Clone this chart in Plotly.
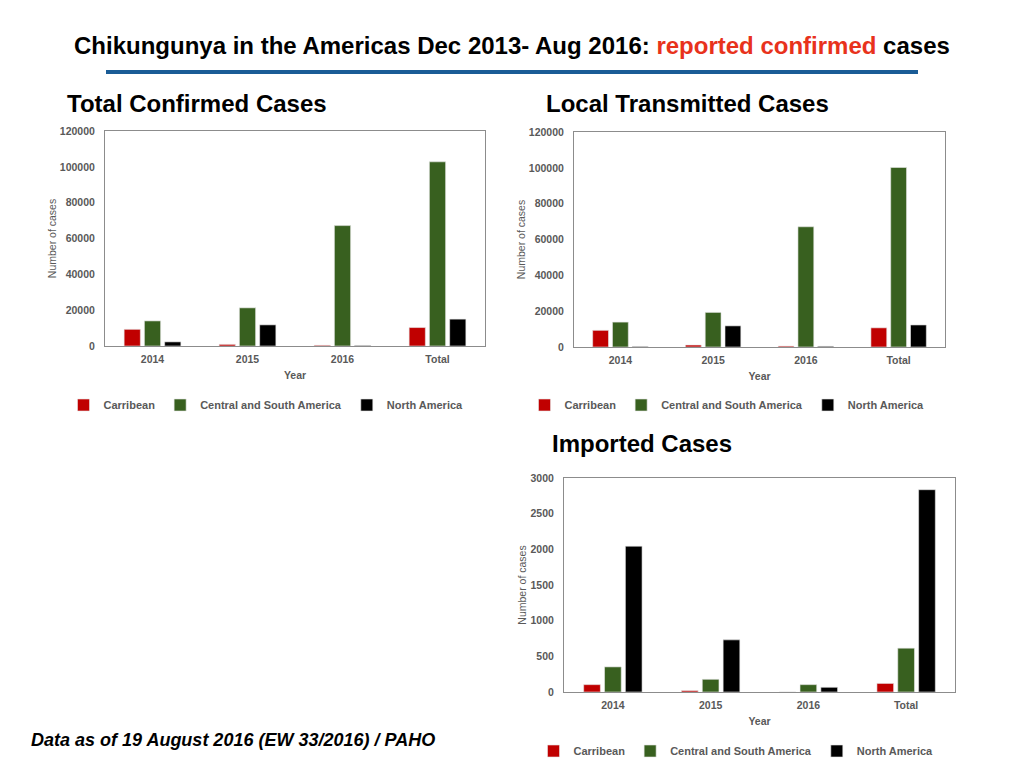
import plotly.graph_objects as go

categories = ["2014", "2015", "2016", "Total"]
series_names = ["Carribean", "Central and South America", "North America"]
colors = ["#c00000", "#38601f", "#000000"]

total_carribean = [9300, 900, 400, 10300]
total_csa = [14000, 21300, 67200, 102800]
total_na = [2300, 11800, 300, 15000]

local_carribean = [9300, 1100, 500, 10700]
local_csa = [13900, 19300, 67100, 100200]
local_na = [300, 11800, 400, 12300]

imported_carribean = [103, 19, 0, 120]
imported_csa = [352, 178, 103, 614]
imported_na = [2044, 731, 66, 2836]

panels = [
    dict(vals=[total_carribean, total_csa, total_na], xa="x", ya="y", leg="legend",
         xd=[105/1024, 485/1024], yd=[1-346/768, 1-131/768], rng=[0, 120000], dt=20000, legy=1-405/768, legx=266/1024),
    dict(vals=[local_carribean, local_csa, local_na], xa="x2", ya="y2", leg="legend2",
         xd=[574/1024, 945/1024], yd=[1-347/768, 1-132/768], rng=[0, 120000], dt=20000, legy=1-405/768, legx=727/1024),
    dict(vals=[imported_carribean, imported_csa, imported_na], xa="x3", ya="y3", leg="legend3",
         xd=[564/1024, 955/1024], yd=[1-692/768, 1-478/768], rng=[0, 3000], dt=500, legy=1-751/768, legx=736/1024),
]

fig = go.Figure()
gray = "#595959"
font = "Liberation Sans, Arial, sans-serif"

layout = dict(
    width=1024, height=768,
    margin=dict(l=0, r=0, t=0, b=0, autoexpand=False),
    paper_bgcolor="white", plot_bgcolor="white",
    barmode="group", bargap=0.36, bargroupgap=0.2,
    font=dict(family=font, color=gray),
    showlegend=True,
)

for i, p in enumerate(panels):
    for name, vals, col in zip(series_names, p["vals"], colors):
        fig.add_trace(go.Bar(
            x=categories, y=vals, name=name, marker=dict(color=col, line=dict(width=0.6, color="#e6e6e6")),
            xaxis=p["xa"], yaxis=p["ya"], legend=p["leg"],
        ))
    sfx = "" if i == 0 else str(i + 1)
    layout["xaxis" + sfx] = dict(
        domain=p["xd"], anchor=p["ya"], showline=True, mirror=True, linecolor="#8c8c8c", linewidth=1,
        showgrid=False, ticks="", ticklabelstandoff=3,
        tickfont=dict(size=10.5, color=gray, family=font, weight="bold"),
        title=dict(text="<b>Year</b>", font=dict(size=10.5, color=gray), standoff=8),
        fixedrange=True,
    )
    layout["yaxis" + sfx] = dict(
        domain=p["yd"], anchor=p["xa"], range=p["rng"], dtick=p["dt"], tickformat="d", showline=True, mirror=True,
        linecolor="#8c8c8c", linewidth=1, showgrid=False, zeroline=False, ticks="", ticklabelstandoff=7,
        tickfont=dict(size=10.5, color=gray, family=font, weight="bold"),
        title=dict(text="Number of cases", font=dict(size=10.5, color=gray), standoff=1),
    )
    layout[p["leg"]] = dict(
        orientation="h", x=p["legx"], y=p["legy"], xanchor="center", yanchor="middle",
        font=dict(size=11, color=gray, family=font, weight="bold"),
        itemwidth=30, bgcolor="rgba(0,0,0,0)", tracegroupgap=0, itemclick=False,
    )

fig.update_layout(**layout)

annotations = [
    dict(x=512/1024, y=1-45/768, xanchor="center", yanchor="middle",
         text="<b>Chikungunya in the Americas Dec 2013- Aug 2016: <span style='color:#e8321c'>reported confirmed</span> cases</b>",
         font=dict(size=24, color="black", family=font)),
    dict(x=65/1024, y=1-103/768, xanchor="left", yanchor="middle", text="<b>Total Confirmed Cases</b>",
         font=dict(size=24, color="black", family=font)),
    dict(x=544/1024, y=1-103/768, xanchor="left", yanchor="middle", text="<b>Local Transmitted Cases</b>",
         font=dict(size=24, color="black", family=font)),
    dict(x=550/1024, y=1-443/768, xanchor="left", yanchor="middle", text="<b>Imported Cases</b>",
         font=dict(size=24, color="black", family=font)),
    dict(x=29/1024, y=1-740/768, xanchor="left", yanchor="middle", text="<b><i>Data as of 19 August 2016 (EW 33/2016) / PAHO</i></b>",
         font=dict(size=18, color="black", family=font)),
]
for a in annotations:
    a.update(xref="paper", yref="paper", showarrow=False)
fig.update_layout(annotations=annotations)

fig.add_shape(type="line", xref="paper", yref="paper", x0=106/1024, x1=918/1024, y0=1-72/768, y1=1-72/768,
              line=dict(color="#1a5c96", width=4))

fig.write_html("out.html", config={"displayModeBar": False},
               post_script="document.body.style.margin='0';document.body.style.overflow='hidden';")
